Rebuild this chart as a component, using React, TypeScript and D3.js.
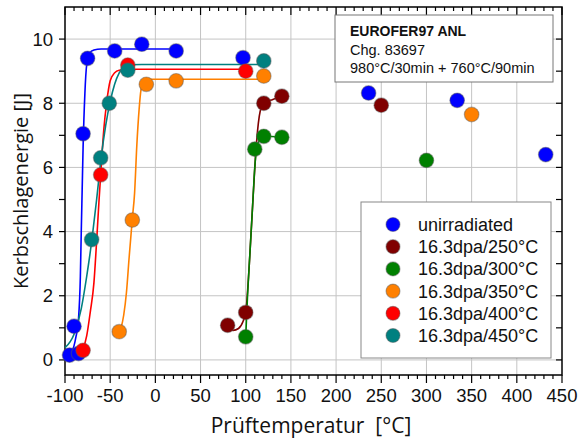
import React from 'react';
import * as d3 from 'd3';

// ---- data ----
const seriesLabels = ['unirradiated', '16.3dpa/250°C', '16.3dpa/300°C', '16.3dpa/350°C', '16.3dpa/400°C', '16.3dpa/450°C'];
const seriesColors = ['#0000ff', '#800000', '#008000', '#ff8000', '#ff0000', '#008080'];

const unirrT = [-95, -85, -90, -80, -75, -45, -15, 23, 97, 236, 334, 432];
const unirrE = [0.15, 0.2, 1.05, 7.05, 9.4, 9.63, 9.84, 9.63, 9.42, 8.32, 8.09, 6.4];
const d250T = [80, 100, 120, 140, 250];
const d250E = [1.08, 1.48, 8.0, 8.22, 7.94];
const d300T = [100, 110, 120, 140, 300];
const d300E = [0.72, 6.57, 6.97, 6.94, 6.22];
const d350T = [-40, -25.5, -10, 23, 120, 350];
const d350E = [0.88, 4.36, 8.59, 8.7, 8.85, 7.65];
const d400T = [-80, -60.5, -30.5, 100];
const d400E = [0.3, 5.77, 9.19, 9.0];
const d450T = [-70.5, -60.5, -51, -30.5, 120];
const d450E = [3.75, 6.3, 8.0, 9.03, 9.32];

// fitted curves
const unirrCurveT = [-100, -92, -88, -85, -83, -82, -81, -80, -78, -76, -73, -68, -60, 23];
const unirrCurveE = [0.15, 0.3, 0.7, 1.3, 2.6, 4.0, 5.3, 6.6, 8.3, 9.2, 9.55, 9.66, 9.69, 9.69];
const d250CurveT = [80, 86, 92, 97, 100, 104, 108, 112, 116, 120, 130, 140];
const d250CurveE = [1.08, 0.92, 0.98, 1.2, 1.48, 3.0, 5.0, 6.8, 7.75, 8.0, 8.12, 8.22];
const d300CurveT = [100, 102, 105, 108, 110, 113, 120, 140];
const d300CurveE = [0.72, 2.0, 3.5, 5.0, 6.0, 6.7, 6.97, 6.94];
const d350CurveT = [-42, -38, -35, -32, -29, -25.5, -23, -20.5, -18, -16, -13, -8, 120];
const d350CurveE = [0.8, 1.0, 1.4, 2.1, 3.2, 4.4, 5.2, 6.7, 7.8, 8.4, 8.68, 8.75, 8.75];
const d400CurveT = [-84, -80, -76, -72, -68, -65, -62.5, -60, -57, -54, -50, -45, -40, -30, 100];
const d400CurveE = [0.15, 0.35, 0.75, 1.5, 2.4, 3.7, 4.9, 6.0, 7.2, 8.0, 8.7, 8.95, 9.03, 9.06, 9.06];
const d450CurveT = [-100, -90, -82, -76, -70, -65, -60, -55, -50, -45, -40, -35, -28, -15, 120];
const d450CurveE = [0.38, 0.8, 1.6, 2.6, 3.8, 5.0, 6.3, 7.3, 8.05, 8.6, 8.95, 9.12, 9.2, 9.21, 9.21];

const xTicks = [-100, -50, 0, 50, 100, 150, 200, 250, 300, 350, 400, 450];
const yTicks = [0, 2, 4, 6, 8, 10];
const infoLines = ['EUROFER97 ANL', 'Chg. 83697', '980°C/30min + 760°C/90min'];

const pointsT = [unirrT, d250T, d300T, d350T, d400T, d450T];
const pointsE = [unirrE, d250E, d300E, d350E, d400E, d450E];
const curvesT = [unirrCurveT, d250CurveT, d300CurveT, d350CurveT, d400CurveT, d450CurveT];
const curvesE = [unirrCurveE, d250CurveE, d300CurveE, d350CurveE, d400CurveE, d450CurveE];

const W = 579, H = 440;
const L = 65, R = 562, T = 7, B = 375;

export default function App() {
  const x = d3.scaleLinear().domain([-100, 450]).range([L, R]);
  const y = d3.scaleLinear().domain([-0.47, 11]).range([B, T]);
  const line = d3.line<[number, number]>().x(d => x(d[0])).y(d => y(d[1])).curve(d3.curveMonotoneX);

  const minorX = d3.range(-100, 451, 10);
  const minorY = d3.range(0, 11, 1);
  const tickFont = 'Arial, "Liberation Sans", sans-serif';
  const titleFont = '"Open Sans", "Noto Sans", sans-serif';

  return (
    <svg width={W} height={H} style={{ position: 'absolute', left: 0, top: 0, background: '#fff' }}>
      <rect x={0} y={0} width={W} height={H} fill="#fff" />
      {/* grid */}
      {xTicks.filter(v => v > -100 && v < 450).map(v => (
        <line key={'gx' + v} x1={x(v)} x2={x(v)} y1={T} y2={B} stroke="#c4c4c4" strokeWidth={1} />
      ))}
      {yTicks.map(v => (
        <line key={'gy' + v} x1={L} x2={R} y1={y(v)} y2={y(v)} stroke="#c4c4c4" strokeWidth={1} />
      ))}

      {/* ticks */}
      {minorX.map(v => {
        const major = v % 50 === 0;
        const len = major ? 8 : 4;
        return (
          <g key={'tx' + v}>
            <line x1={x(v)} x2={x(v)} y1={B} y2={B + len} stroke="#000" strokeWidth={1.2} />
            <line x1={x(v)} x2={x(v)} y1={T} y2={T + len} stroke="#000" strokeWidth={1.2} />
          </g>
        );
      })}
      {minorY.map(v => (
        <g key={'ty' + v}>
          <line x1={L - 6} x2={L} y1={y(v)} y2={y(v)} stroke="#000" strokeWidth={1.2} />
          <line x1={R - 6} x2={R} y1={y(v)} y2={y(v)} stroke="#000" strokeWidth={1.2} />
        </g>
      ))}
      <rect x={L} y={T} width={R - L} height={B - T} fill="none" stroke="#000" strokeWidth={1.5} />

      {/* tick labels */}
      {xTicks.map(v => (
        <text key={'lx' + v} x={x(v)} y={402} textAnchor="middle" fontFamily={tickFont} fontSize={18.5} fill="#111">
          {v}
        </text>
      ))}
      {yTicks.map(v => (
        <text key={'ly' + v} x={53} y={y(v) + 6.5} textAnchor="end" fontFamily={tickFont} fontSize={18.5} fill="#111">
          {v}
        </text>
      ))}

      {/* axis titles */}
      <text x={311} y={433} textAnchor="middle" fontFamily={titleFont} fontSize={21} fill="#111" style={{ whiteSpace: 'pre' }}>
        {'Prüftemperatur  [°C]'}
      </text>
      <text transform={`translate(28,${(T + B) / 2}) rotate(-90)`} textAnchor="middle" fontFamily={titleFont} fontSize={20} fill="#111">
        Kerbschlagenergie [J]
      </text>

      {/* curves */}
      {curvesT.map((ts, i) => (
        <path key={'c' + i} d={line(ts.map((t, j) => [t, curvesE[i][j]]) as [number, number][]) || ''}
          fill="none" stroke={seriesColors[i]} strokeWidth={1.6} />
      ))}

      {/* points */}
      {pointsT.map((ts, i) => (
        <g key={'p' + i}>
          {ts.map((t, j) => (
            <circle key={j} cx={x(t)} cy={y(pointsE[i][j])} r={7.3} fill={seriesColors[i]}
              stroke="rgba(90,90,90,0.45)" strokeWidth={1.2} />
          ))}
        </g>
      ))}

      {/* info box */}
      <rect x={335} y={15} width={218} height={67} fill="#fff" stroke="#777" strokeWidth={1} />
      {infoLines.map((s, i) => (
        <text key={'i' + i} x={350} y={36 + i * 18.5} fontFamily={tickFont} fontSize={i === 0 ? 14 : 14.5}
          fontWeight={i === 0 ? 'bold' : 'normal'} fill="#111">
          {s}
        </text>
      ))}

      {/* legend */}
      <rect x={361} y={202} width={190} height={156} fill="#fff" stroke="#888" strokeWidth={1} />
      {seriesLabels.map((s, i) => (
        <g key={'lg' + i}>
          <circle cx={393} cy={224.5 + i * 22.2} r={7} fill={seriesColors[i]} stroke="rgba(90,90,90,0.45)" strokeWidth={1.2} />
          <text x={418} y={224.5 + i * 22.2 + 6.5} fontFamily={tickFont} fontSize={18} fill="#111">
            {s}
          </text>
        </g>
      ))}
    </svg>
  );
}
